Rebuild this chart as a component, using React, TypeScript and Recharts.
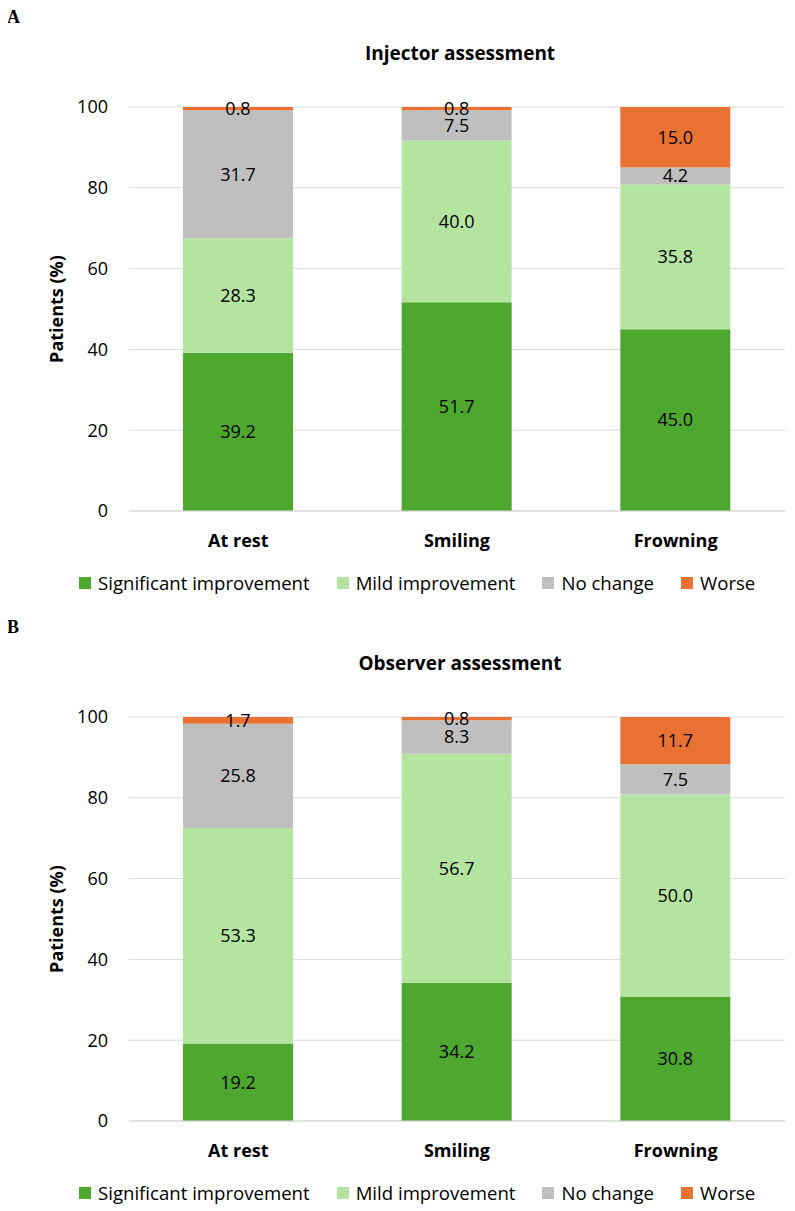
import React from 'react';
import { BarChart, Bar, XAxis, YAxis, CartesianGrid, Legend, LabelList } from 'recharts';

const categories = ['At rest', 'Smiling', 'Frowning'];
const seriesNames = ['Significant improvement', 'Mild improvement', 'No change', 'Worse'];
const seriesColors = ['#4EA72E', '#B3E5A1', '#BFBFBF', '#E97132'];
const yTicks = [0, 20, 40, 60, 80, 100];

// Injector assessment (%)
const injSignificant = [39.2, 51.7, 45.0];
const injMild = [28.3, 40.0, 35.8];
const injNoChange = [31.7, 7.5, 4.2];
const injWorse = [0.8, 0.8, 15.0];

// Observer assessment (%)
const obsSignificant = [19.2, 34.2, 30.8];
const obsMild = [53.3, 56.7, 50.0];
const obsNoChange = [25.8, 8.3, 7.5];
const obsWorse = [1.7, 0.8, 11.7];

const FONT = '"Open Sans", sans-serif';
const keys = ['sig', 'mild', 'none', 'worse'];

function buildRows(series: number[][]) {
  return categories.map((name, i) => {
    const row: Record<string, any> = { name };
    keys.forEach((k, s) => {
      row[k] = series[s][i];
    });
    return row;
  });
}

// keep legend entries in stacking order instead of alphabetical
const LegendRow = ({ payload }: any) => {
  const items = [...(payload || [])].sort(
    (a: any, b: any) => seriesNames.indexOf(a.value) - seriesNames.indexOf(b.value)
  );
  return (
    <div style={{ display: 'flex', alignItems: 'center', fontFamily: FONT, fontSize: 18.6, color: '#000', whiteSpace: 'nowrap' }}>
      {items.map((p: any, i: number) => (
        <div key={i} style={{ display: 'flex', alignItems: 'center', marginRight: 27 }}>
          <span style={{ width: 12, height: 12, background: p.color, marginRight: 7, display: 'inline-block' }} />
          <span>{p.value}</span>
        </div>
      ))}
    </div>
  );
};

const yLabel = ({ viewBox }: any) => {
  const cy = viewBox.y + viewBox.height / 2;
  return (
    <text
      x={48}
      y={cy}
      transform={`rotate(-90, 48, ${cy})`}
      textAnchor="middle"
      dominantBaseline="central"
      style={{ fontFamily: FONT, fontSize: 18, fontWeight: 700, fill: '#000' }}
    >
      Patients (%)
    </text>
  );
};

function Panel({ letter, title, series, top }: { letter: string; title: string; series: number[][]; top: number }) {
  const data = buildRows(series);
  return (
    <div style={{ position: 'absolute', left: 0, top, width: 779, height: 600 }}>
      <div
        style={{
          position: 'absolute',
          left: -1,
          top: 0,
          fontFamily: '"Liberation Serif", serif',
          fontWeight: 700,
          fontSize: 18,
          lineHeight: '18px',
        }}
      >
        {letter}
      </div>
      <div
        style={{
          position: 'absolute',
          left: 452,
          top: 33,
          transform: 'translateX(-50%)',
          whiteSpace: 'nowrap',
          fontFamily: FONT,
          fontWeight: 700,
          fontSize: 19,
          lineHeight: '24px',
        }}
      >
        {title}
      </div>
      <BarChart
        width={779}
        height={600}
        data={data}
        margin={{ top: 99, right: 2, bottom: 57, left: 0 }}
        style={{ fontFamily: FONT }}
      >
        <CartesianGrid horizontal vertical={false} stroke="#D9D9D9" />
        <XAxis
          dataKey="name"
          height={40}
          axisLine={{ stroke: '#D9D9D9' }}
          tickLine={false}
          tickSize={0}
          tickMargin={23}
          tick={{ fill: '#000', fontSize: 18, fontWeight: 700 }}
        />
        <YAxis
          width={121}
          domain={[0, 100]}
          ticks={yTicks}
          axisLine={false}
          tickLine={false}
          tickSize={0}
          tickMargin={21}
          tick={{ fill: '#000', fontSize: 18 }}
          label={{ content: yLabel }}
        />
        <Legend
          verticalAlign="middle"
          content={<LegendRow />}
          wrapperStyle={{ left: 71, top: 562, width: 'auto' }}
        />
        {keys.map((k, s) => (
          <Bar
            key={k}
            dataKey={k}
            name={seriesNames[s]}
            stackId="a"
            fill={seriesColors[s]}
            barSize={110}
            isAnimationActive={false}
          >
            <LabelList
              dataKey={k}
              position="center"
              formatter={(v: any) => Number(v).toFixed(1)}
              style={{ fill: '#000', fontSize: 18, fontFamily: FONT }}
            />
          </Bar>
        ))}
      </BarChart>
    </div>
  );
}

export default function App() {
  return (
    <div style={{ position: 'relative', width: 779, height: 1203, background: '#fff' }}>
      <Panel
        letter="A"
        title="Injector assessment"
        series={[injSignificant, injMild, injNoChange, injWorse]}
        top={0}
      />
      <Panel
        letter="B"
        title="Observer assessment"
        series={[obsSignificant, obsMild, obsNoChange, obsWorse]}
        top={610}
      />
    </div>
  );
}
